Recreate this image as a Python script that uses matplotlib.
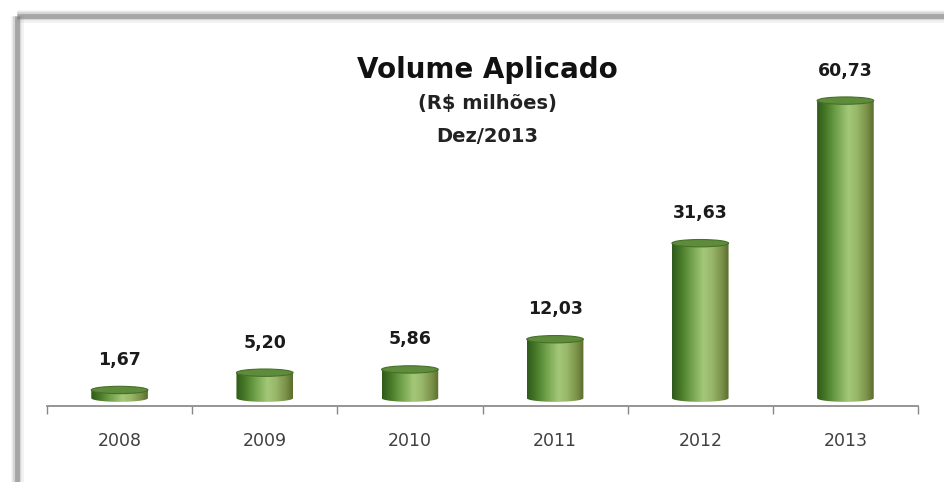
import numpy as np
import matplotlib.pyplot as plt
from matplotlib.patches import Ellipse, Polygon
from matplotlib.colors import LinearSegmentedColormap
from matplotlib.lines import Line2D

# data
years = ["2008", "2009", "2010", "2011", "2012", "2013"]
volume = [1.67, 5.20, 5.86, 12.03, 31.63, 60.73]

title = "Volume Aplicado"
subtitle = "(R$ milhões)"
date_label = "Dez/2013"

plt.rcParams['font.family'] = ['DejaVu Sans']

W, H = 944, 482
fig = plt.figure(figsize=(W / 100, H / 100), dpi=100)
fig.patch.set_facecolor("white")

# frame with soft gray shadow on top / left
for lw, a in [(9, 0.10), (6, 0.22), (3.5, 0.5)]:
    fig.add_artist(Line2D([17 / W, 17 / W], [0, 1 - 16 / H], color="#777777",
                          lw=lw, alpha=a, solid_capstyle="butt"))
    fig.add_artist(Line2D([17 / W, 1], [1 - 16 / H, 1 - 16 / H], color="#777777",
                          lw=lw, alpha=a, solid_capstyle="butt"))

ax = fig.add_axes([47 / W, (H - 406) / H, 871 / W, (406 - 40) / H])
ax.set_xlim(-0.5, len(years) - 0.5)
ax.set_ylim(-1.6, 73.1)

body_cmap = LinearSegmentedColormap.from_list("cyl", [
    (0.0, "#2f5a1c"), (0.15, "#467826"), (0.35, "#73a34c"),
    (0.55, "#a3c778"), (0.7, "#98b86a"), (0.88, "#7a9048"), (1.0, "#5a6c2d")])
grad = np.linspace(0, 1, 256).reshape(1, -1)

bar_w = 0.39
ell_h = 1.5

for i, v in enumerate(volume):
    x0, x1 = i - bar_w / 2, i + bar_w / 2
    t = np.linspace(np.pi, 2 * np.pi, 60)
    arc_x = i + bar_w / 2 * np.cos(t)
    arc_y = ell_h / 2 * np.sin(t)
    pts = list(zip(arc_x, arc_y)) + [(x1, v), (x0, v)]
    clip = Polygon(pts, closed=True, transform=ax.transData, fc="none", ec="none")
    ax.add_patch(clip)
    im = ax.imshow(grad, cmap=body_cmap, aspect="auto",
                   extent=[x0, x1, -ell_h / 2, v], zorder=2)
    im.set_clip_path(clip)
    ax.add_patch(Ellipse((i, v), bar_w, ell_h, fc="#5f8c3b", ec="#46702a",
                         lw=0.8, zorder=3))
    ax.annotate(f"{v:.2f}".replace(".", ","), (i, v + ell_h / 2),
                xytext=(0, 19), textcoords="offset points", ha="center",
                va="center", fontsize=12.5, fontweight="bold", color="#1a1a1a")

ax.set_xticks(range(len(years)))
ax.set_xticklabels(years, fontsize=12.5, color="#404040")
ax.set_xticks(np.arange(-0.5, len(years)), minor=True)
ax.tick_params(axis="x", which="major", length=0, pad=19)
ax.tick_params(axis="x", which="minor", length=6, color="#888888", width=1, direction="out")
ax.set_yticks([])
for s in ["top", "right", "left"]:
    ax.spines[s].set_visible(False)
ax.spines["bottom"].set_color("#8c8c8c")
ax.spines["bottom"].set_linewidth(1.3)
ax.set_facecolor("none")

fig.text(487 / W, 1 - 70 / H, title, ha="center", va="center",
         fontsize=20, fontweight="bold", color="#111111")
fig.text(487 / W, 1 - 104 / H, subtitle, ha="center", va="center",
         fontsize=14, fontweight="bold", color="#222222")
fig.text(487 / W, 1 - 137 / H, date_label, ha="center", va="center",
         fontsize=14, fontweight="bold", color="#222222")

fig.savefig("out.png", dpi=100)
